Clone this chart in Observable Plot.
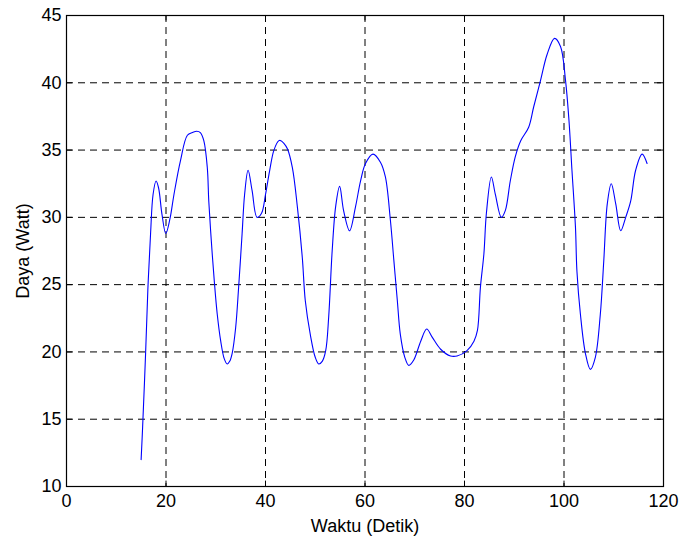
<!DOCTYPE html>
<html>
<head>
<meta charset="utf-8">
<script src="https://cdn.jsdelivr.net/npm/d3@7"></script>
<script src="https://cdn.jsdelivr.net/npm/@observablehq/plot@0.6"></script>
<style>
  html, body { margin: 0; padding: 0; background: #fff; }
  #chart svg { display: block; }
</style>
</head>
<body>
<div id="chart"></div>
<script>
const waktu = [
  15.0, 15.3, 15.9, 16.35, 16.9, 17.4, 18.0, 18.5, 19.2, 19.96,
  20.8, 21.6, 22.9, 24.3, 25.3, 26.2, 26.9, 27.6, 28.3, 28.6,
  29.1, 29.7, 30.3, 31.0, 31.7, 32.3, 32.8, 33.3, 34.0, 34.6,
  35.3, 35.8, 36.5, 37.3, 38.3, 39.2, 40.0, 40.8, 41.7, 42.7,
  43.1, 43.7, 44.4, 45.4, 46.4, 47.4, 48.0, 49.0, 50.0, 50.7,
  51.4, 52.1, 52.7, 53.4, 54.1, 54.9, 55.7, 56.9, 58.1, 59.1,
  60.1, 61.6, 63.1, 64.1, 65.1, 65.8, 66.5, 67.1, 68.0, 68.8,
  69.8, 71.2, 72.4, 73.5, 75.2, 77.2, 78.5, 80.5, 81.9, 82.6,
  83.2, 83.9, 84.4, 85.4, 86.2, 87.4, 88.2, 89.2, 90.2, 91.3,
  92.9, 93.9, 95.3, 96.6, 98.1, 99.3, 100.3, 101.0, 101.6, 102.3,
  102.6, 103.3, 104.3, 105.3, 106.3, 107.3, 108.0, 108.7, 109.5, 110.4,
  111.4, 112.4, 113.4, 114.4, 115.7, 116.7
];
const daya = [
  12.0, 14.4, 19.9, 24.6, 28.8, 31.7, 32.7, 32.2, 30.2, 28.8,
  29.9, 31.7, 34.2, 36.1, 36.3, 36.4, 36.3, 35.7, 33.7, 31.2,
  28.3, 25.3, 22.8, 20.8, 19.5, 19.1, 19.3, 19.9, 21.8, 24.8,
  28.8, 31.7, 33.5, 32.0, 30.0, 30.3, 31.7, 33.4, 35.0, 35.7,
  35.7, 35.5, 35.1, 33.7, 30.8, 27.0, 23.8, 21.3, 19.6, 19.1,
  19.3, 20.1, 22.6, 27.5, 30.8, 32.3, 30.5, 29.0, 30.8, 32.7,
  34.0, 34.7, 34.1, 33.0, 29.8, 26.8, 23.8, 21.3, 19.6, 19.0,
  19.4, 20.8, 21.7, 21.1, 20.2, 19.7, 19.7, 20.1, 20.8, 21.6,
  24.8, 27.3, 30.3, 33.0, 31.7, 30.0, 30.5, 32.7, 34.5, 35.7,
  36.7, 38.2, 40.2, 42.1, 43.3, 42.7, 40.2, 37.2, 33.5, 29.3,
  26.0, 22.8, 19.9, 18.7, 19.6, 22.8, 26.8, 31.0, 32.5, 31.0,
  29.0, 30.0, 31.2, 33.5, 34.7, 34.0
];
const xTicks = [0, 20, 40, 60, 80, 100, 120];
const yTicks = [10, 15, 20, 25, 30, 35, 40, 45];
const xGrid = [20, 40, 60, 80, 100];
const yGrid = [15, 20, 25, 30, 35, 40];

const data = waktu.map((t, i) => ({t, p: daya[i]}));

const chart = Plot.plot({
  width: 683,
  height: 538,
  marginLeft: 66,
  marginRight: 20,
  marginTop: 15,
  marginBottom: 52,
  style: {fontFamily: "'Liberation Sans', Arial, sans-serif", fontSize: "18px", color: "#000", background: "#fff"},
  x: {domain: [0, 120], ticks: xTicks},
  y: {domain: [10, 45], ticks: yTicks},
  marks: [
    Plot.ruleX(xGrid, {stroke: "#000", strokeDasharray: "7,5", strokeWidth: 1}),
    Plot.ruleY(yGrid, {stroke: "#000", strokeDasharray: "7,5", strokeWidth: 1}),
    Plot.ruleX(xTicks, {y1: 10, y2: 10.4, stroke: "#000"}),
    Plot.ruleX(xTicks, {y1: 45, y2: 44.6, stroke: "#000"}),
    Plot.ruleY(yTicks, {x1: 0, x2: 1.2, stroke: "#000"}),
    Plot.ruleY(yTicks, {x1: 120, x2: 118.8, stroke: "#000"}),
    Plot.line(data, {x: "t", y: "p", stroke: "#0000ff", strokeWidth: 1.1, curve: "catmull-rom"}),
    Plot.frame({stroke: "#000", strokeWidth: 1.2}),
    Plot.axisX({ticks: xTicks, tickSize: 0, tickPadding: 8, fontSize: 18, label: "Waktu (Detik)", labelAnchor: "center", labelArrow: "none", labelOffset: 45}),
    Plot.axisY({ticks: yTicks, tickSize: 0, tickPadding: 5, fontSize: 18, label: "Daya (Watt)", labelAnchor: "center", labelArrow: "none", labelOffset: 50})
  ]
});
document.getElementById("chart").appendChild(chart);
</script>
</body>
</html>
